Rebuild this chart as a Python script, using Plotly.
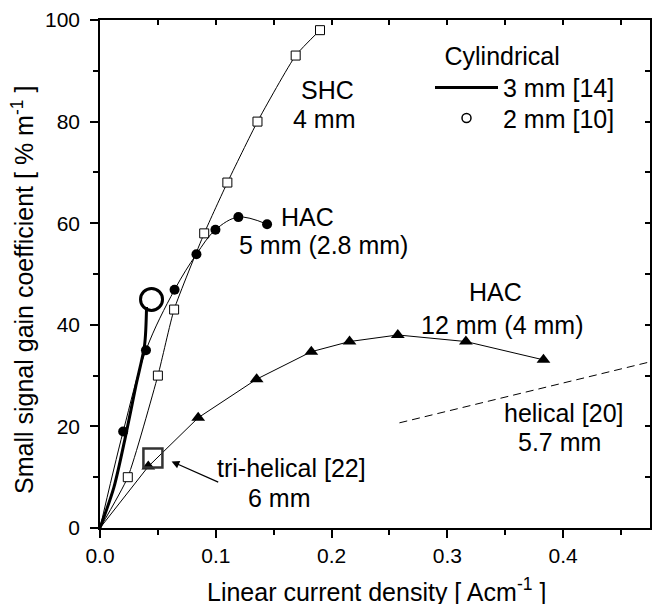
import plotly.graph_objects as go

# ---- data ----
origin_x = [0.0]
origin_y = [0.0]

shc_x = [0.024, 0.050, 0.064, 0.090, 0.110, 0.136, 0.169, 0.190]
shc_y = [10.0, 30.0, 43.0, 58.0, 68.0, 80.0, 93.0, 98.0]

hac5_x = [0.020, 0.0397, 0.0644, 0.0833, 0.0997, 0.1195, 0.1443]
hac5_y = [19.0, 35.0, 46.9, 53.9, 58.7, 61.2, 59.8]

hac12_x = [0.0417, 0.0848, 0.1353, 0.1825, 0.2155, 0.2572, 0.316, 0.383]
hac12_y = [12.1, 21.7, 29.3, 34.7, 36.7, 38.0, 36.7, 33.1]

cyl3_x = [0.0, 0.012, 0.022, 0.031, 0.0385, 0.0402]
cyl3_y = [0.0, 8.0, 18.0, 28.0, 36.0, 43.5]

cyl2_x = [0.0445]
cyl2_y = [45.0]

trihel_x = [0.0457]
trihel_y = [13.8]

helical_x = [0.2586, 0.475]
helical_y = [20.7, 32.7]

x_range = [0, 0.475]
y_range = [0, 100]
x_ticks = [0.0, 0.1, 0.2, 0.3, 0.4]
x_ticktext = ["0.0", "0.1", "0.2", "0.3", "0.4"]
y_ticks = [0, 20, 40, 60, 80, 100]

FONT = "Liberation Sans, Arial, Helvetica, sans-serif"
TXT = 25
TICK = 21

fig = go.Figure()

# SHC 4 mm
fig.add_trace(go.Scatter(x=origin_x + shc_x, y=origin_y + shc_y, mode="lines",
                         line=dict(color="black", width=1, shape="spline", smoothing=0.5),
                         showlegend=False, hoverinfo="skip"))
fig.add_trace(go.Scatter(x=shc_x, y=shc_y, mode="markers",
                         marker=dict(symbol="square", size=9, color="white",
                                     line=dict(color="black", width=1)),
                         showlegend=False))

# HAC 5 mm
fig.add_trace(go.Scatter(x=origin_x + hac5_x, y=origin_y + hac5_y, mode="lines",
                         line=dict(color="black", width=1, shape="spline", smoothing=1.0),
                         showlegend=False, hoverinfo="skip"))
fig.add_trace(go.Scatter(x=hac5_x, y=hac5_y, mode="markers",
                         marker=dict(symbol="circle", size=10, color="black"),
                         showlegend=False))

# HAC 12 mm
fig.add_trace(go.Scatter(x=origin_x + hac12_x, y=origin_y + hac12_y, mode="lines",
                         line=dict(color="black", width=1),
                         showlegend=False, hoverinfo="skip"))
fig.add_trace(go.Scatter(x=hac12_x, y=hac12_y, mode="markers",
                         marker=dict(symbol="triangle-up", size=12, color="black"),
                         showlegend=False))

# helical [20]
fig.add_trace(go.Scatter(x=helical_x, y=helical_y, mode="lines",
                         line=dict(color="black", width=1, dash="8px,5px"),
                         showlegend=False))

# Cylindrical 3 mm [14]
fig.add_trace(go.Scatter(x=cyl3_x, y=cyl3_y, mode="lines",
                         line=dict(color="black", width=3, shape="spline", smoothing=0.8),
                         name="3 mm [14]", showlegend=True, legend="legend"))

# Cylindrical 2 mm [10]
fig.add_trace(go.Scatter(x=cyl2_x, y=cyl2_y, mode="markers",
                         marker=dict(symbol="circle-open", size=22, color="black",
                                     line=dict(width=3)),
                         showlegend=False))
fig.add_trace(go.Scatter(x=[None], y=[None], mode="markers", name="2 mm [10]",
                         marker=dict(symbol="circle-open", size=9, color="black",
                                     line=dict(width=1.5)),
                         showlegend=True, legend="legend2"))

# tri-helical [22]
fig.add_trace(go.Scatter(x=trihel_x, y=trihel_y, mode="markers",
                         marker=dict(symbol="square-open", size=19, color="#333333",
                                     line=dict(width=2.5)),
                         showlegend=False))

# dummy trace for mirrored tick axes
fig.add_trace(go.Scatter(x=[], y=[], xaxis="x2", yaxis="y2", showlegend=False))

def ann(x, y, text):
    return dict(x=x, y=y, xref="x", yref="y", text=text, showarrow=False,
                xanchor="center", yanchor="middle",
                font=dict(size=TXT, color="black", family=FONT))

annotations = [
    ann(0.1969, 86.2, "SHC"),
    ann(0.1943, 80.5, "4 mm"),
    ann(0.1796, 61.2, "HAC"),
    ann(0.1934, 55.7, "5 mm (2.8 mm)"),
    ann(0.3412, 46.5, "HAC"),
    ann(0.3473, 40.0, "12 mm (4 mm)"),
    ann(0.4009, 22.6, "helical [20]"),
    ann(0.3966, 16.9, "5.7 mm"),
    ann(0.1657, 11.8, "tri-helical [22]"),
    ann(0.1553, 5.9, "6 mm"),
    dict(x=0.0618, y=13.1, ax=0.1034, ay=8.9, xref="x", yref="y",
         axref="x", ayref="y", text="", showarrow=True,
         arrowhead=2, arrowsize=1.3, arrowwidth=1.2, arrowcolor="black"),
    dict(x=0.5027, y=-0.122, xref="paper", yref="paper",
         text="Linear current density [ Acm<sup>-1</sup> ]", showarrow=False,
         xanchor="center", yanchor="middle",
         font=dict(size=TXT, color="black", family=FONT)),
    dict(x=-0.14, y=0.4685, xref="paper", yref="paper", textangle=-90,
         text="Small signal gain coefficient [ % m<sup>-1</sup> ]", showarrow=False,
         xanchor="center", yanchor="middle",
         font=dict(size=TXT, color="black", family=FONT)),
]

legend_common = dict(xanchor="left", yanchor="top",
                     bgcolor="rgba(0,0,0,0)", borderwidth=0,
                     itemwidth=63, tracegroupgap=0,
                     font=dict(size=TXT, family=FONT, color="black"))

fig.update_layout(
    width=652, height=604,
    margin=dict(l=100, r=2, t=20, b=76),
    paper_bgcolor="white", plot_bgcolor="white",
    font=dict(family=FONT, color="black", size=TICK),
    annotations=annotations,
    showlegend=True,
    legend=dict(x=0.6, y=0.976,
                title=dict(text="\u2002Cylindrical", side="top",
                           font=dict(size=TXT, family=FONT, color="black")),
                **legend_common),
    legend2=dict(x=0.6, y=0.852, **legend_common),
    xaxis=dict(range=x_range, tickvals=x_ticks, ticktext=x_ticktext,
               ticks="outside", ticklen=8, tickwidth=1.5, tickcolor="black",
               showline=True, linewidth=1.5, linecolor="black", mirror=True,
               showgrid=False, zeroline=False, automargin=False,
               tickfont=dict(size=TICK, color="black", family=FONT),
               minor=dict(dtick=0.05, tick0=0, ticks="outside", ticklen=5,
                          tickwidth=1.5, tickcolor="black", showgrid=False)),
    yaxis=dict(range=y_range, tickvals=y_ticks,
               ticks="outside", ticklen=8, tickwidth=1.5, tickcolor="black",
               showline=True, linewidth=1.5, linecolor="black", mirror=True,
               showgrid=False, zeroline=False, automargin=False,
               ticklabelstandoff=6,
               tickfont=dict(size=TICK, color="black", family=FONT),
               minor=dict(dtick=10, tick0=0, ticks="outside", ticklen=5,
                          tickwidth=1.5, tickcolor="black", showgrid=False)),
    xaxis2=dict(overlaying="x", side="top", range=x_range, dtick=0.05, tick0=0,
                ticks="inside", ticklen=5, tickwidth=1.5, tickcolor="black",
                showticklabels=False, showgrid=False, zeroline=False, showline=False,
                automargin=False),
    yaxis2=dict(overlaying="y", side="right", range=y_range, dtick=10, tick0=0,
                ticks="inside", ticklen=5, tickwidth=1.5, tickcolor="black",
                showticklabels=False, showgrid=False, zeroline=False, showline=False,
                automargin=False),
)

fig.write_html("out.html", config={"displayModeBar": False},
               post_script="document.body.style.margin='0px';")
